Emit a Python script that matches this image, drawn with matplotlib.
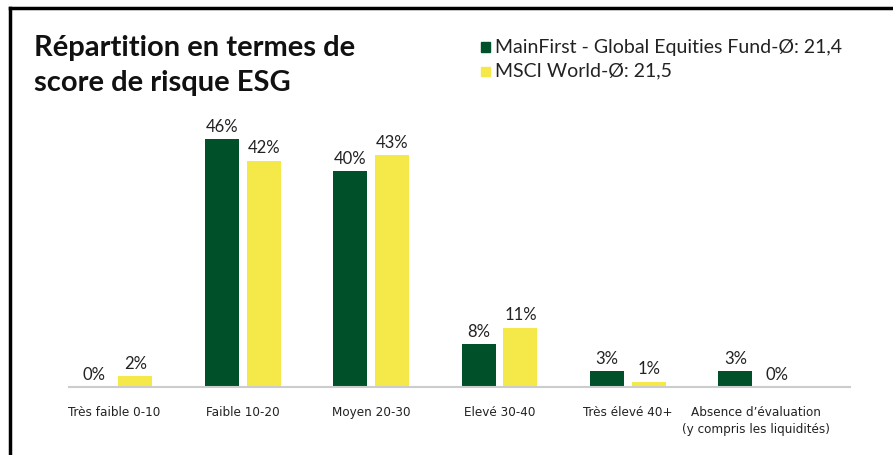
import matplotlib
matplotlib.use("Agg")
import matplotlib.pyplot as plt
from matplotlib.lines import Line2D
from matplotlib.patches import Rectangle
import numpy as np

categories = ["Très faible 0-10", "Faible 10-20", "Moyen 20-30", "Elevé 30-40",
              "Très élevé 40+", "Absence d’évaluation\n(y compris les liquidités)"]
fund = [0, 46, 40, 8, 3, 3]
msci = [2, 42, 43, 11, 1, 0]
fund_name = "MainFirst - Global Equities Fund-Ø: 21,4"
msci_name = "MSCI World-Ø: 21,5"
title_lines = ["Répartition en termes de", "score de risque ESG"]

GREEN = "#00502A"
YELLOW = "#F5E94A"
TXT = "#222222"

W, H = 893, 455
fig = plt.figure(figsize=(W / 100, H / 100), dpi=100)

def fx(px):
    return px / W

def fy(py):
    return 1 - py / H

ax = fig.add_axes([fx(69), fy(387), fx(850) - fx(69), fy(110) - fy(387)])
x = np.arange(len(categories))
bw = 0.265
off = 0.163
ax.bar(x - off, fund, bw, color=GREEN, zorder=2)
ax.bar(x + off, msci, bw, color=YELLOW, zorder=2)
ymax = (387 - 110) / 5.39
ax.set_ylim(0, ymax)
ax.set_xlim(-0.354, 5.73)
for s in ["top", "right", "left"]:
    ax.spines[s].set_visible(False)
ax.spines["bottom"].set_color("#cccccc")
ax.spines["bottom"].set_linewidth(1.5)
ax.set_yticks([])
ax.set_xticks(x)
ax.set_xticklabels(categories, fontsize=9.6, color=TXT, family=["DejaVu Sans"],
                   fontstretch="condensed", linespacing=1.35)
ax.tick_params(axis="x", length=0, pad=14)
for i in range(len(categories)):
    ax.text(x[i] - off, fund[i] + 0.8, f"{fund[i]}%", ha="center", va="bottom",
            fontsize=12, color=TXT, family="Lato")
    ax.text(x[i] + off, msci[i] + 0.8, f"{msci[i]}%", ha="center", va="bottom",
            fontsize=12, color=TXT, family="Lato")

for i, line in enumerate(title_lines):
    fig.text(fx(34), fy(56 + 35 * i), line, ha="left", va="baseline", fontsize=21,
             fontweight="bold", family="Lato", color="#111111")

for i, (name, col) in enumerate([(fund_name, GREEN), (msci_name, YELLOW)]):
    yc = 47 + i * 24
    fig.add_artist(Rectangle((fx(481), fy(yc + 4.5)), fx(9), fy(yc - 4.5) - fy(yc + 4.5),
                             transform=fig.transFigure, color=col))
    fig.text(fx(495), fy(yc), name, ha="left", va="center", fontsize=14,
             family="Lato", color=TXT)

fig.add_artist(Line2D([fx(10), fx(10)], [fy(8), 0], transform=fig.transFigure,
                      color="black", lw=2.5))
fig.add_artist(Line2D([fx(10), 1], [fy(8), fy(8)], transform=fig.transFigure,
                      color="black", lw=2.5))

fig.savefig("out.png", dpi=100)
